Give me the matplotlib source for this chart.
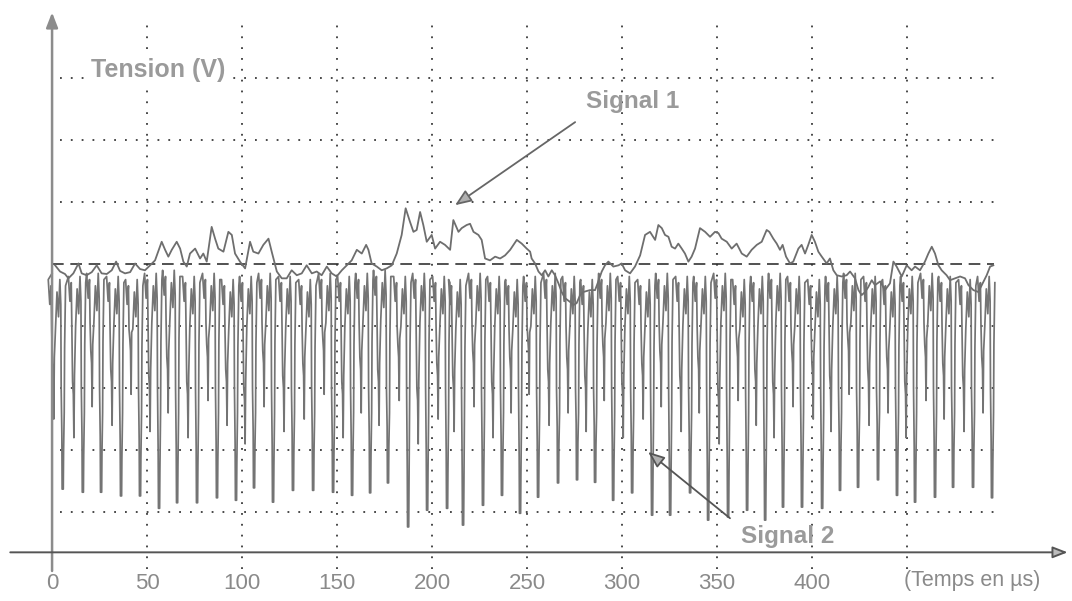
import matplotlib
matplotlib.use("Agg")
import matplotlib.pyplot as plt

plt.rcParams['font.family'] = ['Liberation Sans', 'DejaVu Sans']

# ---------------- data (time in µs, tension in arbitrary volts) ----------------
x_ticks = [0, 50, 100, 150, 200, 250, 300, 350, 400]
x_tick_labels = ["0", "50", "100", "150", "200", "250", "300", "350", "400"]
v_grid_x = [50, 100, 150, 200, 250, 300, 350, 400, 450]
h_grid_y = [1, 2, 3, 4, 6, 7, 8]
ref_level = 5

sig1_t = [1.6, 4.2, 6.8, 8.6, 11.2, 13.9, 15.6, 18.2, 20.9, 23.5, 26.1, 28.8, 31.4, 33.7,
          35.8, 38.4, 41.1, 43.7, 46.3, 48.9, 51.6, 54.2, 57.7, 59.5, 61.2, 63.0, 65.6,
          67.4, 69.1, 70.9, 72.6, 75.3, 77.9, 79.6, 81.4, 84.0, 85.8, 87.5, 90.2, 92.8,
          94.6, 96.3, 98.9, 101.6, 104.2, 105.9, 108.6, 111.2, 113.9, 115.6, 118.3, 120.9,
          123.5, 126.1, 128.8, 131.4, 134.0, 136.7, 139.3, 141.9, 144.6, 147.2, 149.8,
          152.5, 155.1, 157.7, 160.4, 163.0, 165.3, 166.5, 168.2, 170.9, 173.5, 176.1,
          178.8, 181.4, 184.0, 186.1, 188.4, 190.2, 191.9, 193.7, 195.4, 197.2, 199.8,
          201.6, 204.2, 206.8, 209.5, 211.2, 213.9, 215.6, 218.2, 220.0, 221.8, 224.4,
          226.1, 227.9, 230.5, 233.2, 235.8, 238.4, 241.1, 244.6, 247.2, 249.8, 251.6,
          252.4, 254.2, 256.0, 257.7, 259.5, 261.2, 263.0, 264.7, 266.5, 268.2, 270.0,
          272.6, 274.4, 276.1, 277.9, 279.6, 283.1, 285.8, 287.5, 289.3, 291.0, 292.8,
          295.4, 298.1, 299.8, 301.6, 304.2, 306.8, 309.5, 312.1, 314.7, 317.4, 319.1,
          320.9, 322.6, 324.4, 326.1, 327.9, 329.6, 331.4, 333.1, 334.9, 336.6, 338.4,
          341.0, 343.7, 346.3, 348.9, 350.7, 352.4, 355.1, 357.7, 360.3, 363.0, 365.6,
          368.2, 370.9, 373.5, 376.1, 377.5, 379.6, 381.4, 383.1, 384.5, 386.3, 388.4,
          390.1, 392.8, 394.5, 396.3, 398.0, 399.8, 401.5, 403.3, 405.1, 407.7, 409.4,
          411.2, 413.0, 415.6, 418.2, 420.0, 422.6, 424.4, 426.1, 427.9, 429.6, 431.4,
          433.1, 435.8, 438.4, 441.0, 442.8, 444.5, 447.2, 449.8, 452.4, 454.2, 456.8,
          459.4, 461.2, 463.0, 464.7, 466.5, 468.2, 470.8, 472.6, 475.2, 477.9, 480.5,
          482.3, 484.9, 487.5, 489.3, 491.9, 493.7, 495.4]
sig1_v = [4.98, 4.88, 4.84, 4.77, 4.85, 5.01, 4.85, 4.82, 4.87, 4.98, 4.85, 4.84, 4.90, 5.04,
          4.89, 4.85, 4.87, 5.01, 4.92, 4.90, 4.98, 5.06, 5.36, 5.23, 5.12, 5.23, 5.36,
          5.25, 5.04, 4.96, 5.17, 5.25, 5.09, 5.17, 5.04, 5.60, 5.41, 5.25, 5.20, 5.52,
          5.47, 5.17, 5.04, 4.93, 5.36, 5.20, 5.17, 5.31, 5.41, 5.20, 4.88, 4.77,
          4.77, 4.90, 4.82, 4.85, 4.98, 4.85, 4.88, 4.82, 4.96, 4.85, 4.80,
          4.90, 4.98, 5.06, 5.23, 5.17, 5.31, 5.23, 5.01, 4.96, 4.90, 4.93,
          4.98, 5.17, 5.47, 5.90, 5.68, 5.52, 5.55, 5.84, 5.63, 5.36, 5.47,
          5.25, 5.36, 5.31, 5.23, 5.71, 5.52, 5.58, 5.63, 5.65, 5.52, 5.47,
          5.39, 5.09, 5.06, 5.12, 5.09, 5.14, 5.23, 5.39, 5.33, 5.25, 5.20,
          5.09, 5.01, 4.88, 4.82, 4.90, 4.80, 4.90, 4.82, 4.69, 4.55, 4.45,
          4.39, 4.34, 4.37, 4.50, 4.55, 4.58, 4.58, 4.72, 4.88, 4.98, 5.04,
          4.96, 4.98, 5.01, 4.90, 4.85, 4.96, 5.14, 5.47, 5.52, 5.39, 5.63,
          5.58, 5.47, 5.44, 5.28, 5.25, 5.33, 5.25, 5.17, 5.04, 5.12, 5.25,
          5.58, 5.52, 5.44, 5.52, 5.50, 5.41, 5.36, 5.25, 5.33, 5.17, 5.12,
          5.23, 5.31, 5.36, 5.55, 5.52, 5.41, 5.33, 5.23, 5.31, 5.12, 5.01,
          5.04, 5.25, 5.31, 5.17, 5.31, 5.47, 5.36, 5.20, 5.12, 5.01, 5.09,
          4.90, 4.82, 4.80, 4.82, 4.88, 4.77, 4.58, 4.50, 4.55, 4.63, 4.74,
          4.66, 4.72, 4.58, 4.69, 5.04, 4.96, 4.80, 4.98, 4.90, 4.96, 4.90,
          5.04, 5.17, 5.28, 5.17, 4.98, 4.90, 4.82, 4.74, 4.77, 4.80, 4.77,
          4.66, 4.58, 4.55, 4.66, 4.82, 4.96, 4.98]

# Signal 2 : time of each deep spike, its bottom level, the bottom of the
# intermediate dip before it, and the plateau level between spikes
spike_t = [5.6, 16.2, 25.8, 36.3, 46.3, 56.3, 65.8, 76.3, 86.8, 96.8, 106.3, 116.3, 126.8,
           137.4, 147.9, 157.9, 167.4, 176.8, 187.4, 197.4, 207.9, 216.3, 226.8, 236.8,
           246.3, 255.8, 266.3, 276.3, 285.8, 295.3, 305.3, 315.8, 325.3, 335.8, 345.3,
           355.8, 365.8, 375.3, 384.7, 394.7, 405.3, 414.7, 424.2, 434.7, 444.7, 454.2,
           464.7, 474.2, 484.7, 494.7]
spike_v = [1.37, 1.32, 1.32, 1.26, 1.26, 1.06, 1.15, 1.15, 1.23, 1.19, 1.39, 1.16, 1.35,
           1.35, 1.32, 1.27, 1.31, 1.47, 0.76, 1.03, 1.06, 0.79, 1.11, 1.27, 0.98, 1.24,
           1.47, 1.52, 1.48, 1.19, 1.31, 0.95, 0.95, 1.31, 0.87, 0.92, 1.03, 0.87, 1.08,
           1.08, 1.06, 1.35, 1.40, 1.52, 1.27, 1.16, 1.24, 1.40, 1.40, 1.23]
mid_v = [2.5, 2.2, 2.7, 2.4, 2.9, 2.3, 2.6, 2.2, 2.8, 2.4, 2.1, 2.7, 2.3, 2.5, 2.9, 2.2,
         2.6, 2.4, 2.8, 2.1, 2.5, 2.3, 2.7, 2.2, 2.6, 2.9, 2.4, 2.6, 2.3, 2.8, 2.2, 2.5,
         2.7, 2.3, 2.6, 2.1, 2.8, 2.4, 2.2, 2.7, 2.5, 2.3, 2.9, 2.4, 2.6, 2.2, 2.8, 2.5,
         2.3, 2.6]
top_v = [4.85, 4.9, 4.95, 4.9, 4.85, 4.95, 5.0, 4.9, 4.95, 4.85, 4.9, 4.95, 4.9, 4.85,
         4.95, 4.9, 4.95, 5.0, 4.9, 4.95, 4.9, 4.85, 4.95, 4.9, 4.85, 4.9, 4.95, 4.9,
         4.85, 4.95, 4.9, 4.85, 4.95, 4.9, 4.9, 4.95, 4.85, 4.9, 4.95, 4.9, 4.85, 4.9,
         4.95, 4.9, 4.85, 4.9, 4.95, 4.9, 4.85, 4.9]

# ---------------- figure ----------------
W, H = 1072, 601
fig = plt.figure(figsize=(W / 100, H / 100), dpi=100)
ax = fig.add_axes([0, 0, 1, 1])
ax.set_xlim(-27.4, 536.8)
ax.set_ylim(-0.435, 9.26)
ax.axis('off')

grid_col = '#3a3a3a'
dot = (0, (1, 5))
for gy in h_grid_y:
    ax.plot([4, 496], [gy, gy], linestyle=dot, color=grid_col, lw=1.3, zorder=1)
for gx in v_grid_x:
    ax.plot([gx, gx], [0.08, 8.9], linestyle=dot, color=grid_col, lw=1.3, zorder=1)
ax.plot([0, 496], [ref_level, ref_level], linestyle=(0, (7, 4)), color='#333333',
        lw=1.2, zorder=1)

# signal 2 polyline assembled from the per-spike readings
s2_t, s2_v = [0.0], [top_v[0]]
for ts, sb, sm, tp in zip(spike_t, spike_v, mid_v, top_v):
    s2_t += [ts - 7.6, ts - 6.8, ts - 6.1, ts - 5.8, ts - 5.4, ts - 5.0, ts - 4.7,
             ts - 4.4, ts - 3.8, ts - 3.0, ts - 2.2, ts - 1.5, ts - 1.0, ts - 0.8,
             ts - 0.45, ts - 0.3, ts + 0.3, ts + 0.45, ts + 0.8, ts + 1.0, ts + 1.5]
    s2_v += [tp - 0.1, tp - 0.5, tp - 0.2, tp - 0.9, sm + 0.9, sm + 0.7, sm,
             sm + 1.0, tp - 0.9, tp - 0.3, tp - 0.7, tp - 0.1, tp - 0.5, 3.0,
             sb + 0.9, sb, sb, sb + 0.6, 2.6, tp - 1.2, tp - 0.2]
ax.plot(s2_t, s2_v, color='#747474', lw=1.25, zorder=3)
ax.plot(sig1_t, sig1_v, color='#6e6e6e', lw=1.3, zorder=4)

# axes arrows
axis_col = '#8c8c8c'
ax.annotate('', xy=(0, 9.06), xytext=(0, 0.05),
            arrowprops=dict(arrowstyle='-|>,head_length=0.9,head_width=0.35',
                            color=axis_col, lw=1.8, shrinkA=0, shrinkB=0), zorder=5)
ax.annotate('', xy=(534.5, 0.35), xytext=(-22, 0.35),
            arrowprops=dict(arrowstyle='-|>,head_length=0.9,head_width=0.35',
                            fc='#bdbdbd', ec='#555555', lw=1.4, shrinkA=0, shrinkB=0),
            zorder=5)

# labels
txt_col = '#9a9a9a'
ax.text(55.8, 8.13, 'Tension (V)', color=txt_col, fontsize=18, fontweight='bold',
        ha='center', va='center', zorder=6,
        bbox=dict(fc='white', ec='none', pad=2))
ax.text(305.3, 7.63, 'Signal 1', color=txt_col, fontsize=17.5, fontweight='bold',
        ha='center', va='center', zorder=6)
ax.text(387.4, 0.60, 'Signal 2', color=txt_col, fontsize=17.5, fontweight='bold',
        ha='center', va='center', zorder=6)
for xt, lab in zip(x_ticks, x_tick_labels):
    ax.text(xt, -0.15, lab, color='#8a8a8a', fontsize=16, ha='center', va='center')
ax.text(484.2, -0.10, '(Temps en µs)', color='#8a8a8a', fontsize=15.5,
        ha='center', va='center')

# pointer arrows
ax.annotate('', xy=(212.1, 5.95), xytext=(275.3, 7.29),
            arrowprops=dict(arrowstyle='-|>,head_length=1.0,head_width=0.4',
                            fc='#b0b0b0', ec='#666666', lw=1.3, shrinkA=0, shrinkB=0),
            zorder=7)
ax.annotate('', xy=(313.7, 1.97), xytext=(356.8, 0.90),
            arrowprops=dict(arrowstyle='-|>,head_length=1.0,head_width=0.4',
                            fc='#b0b0b0', ec='#555555', lw=1.3, shrinkA=0, shrinkB=0),
            zorder=7)

fig.savefig('out.png', dpi=100, facecolor='white')
